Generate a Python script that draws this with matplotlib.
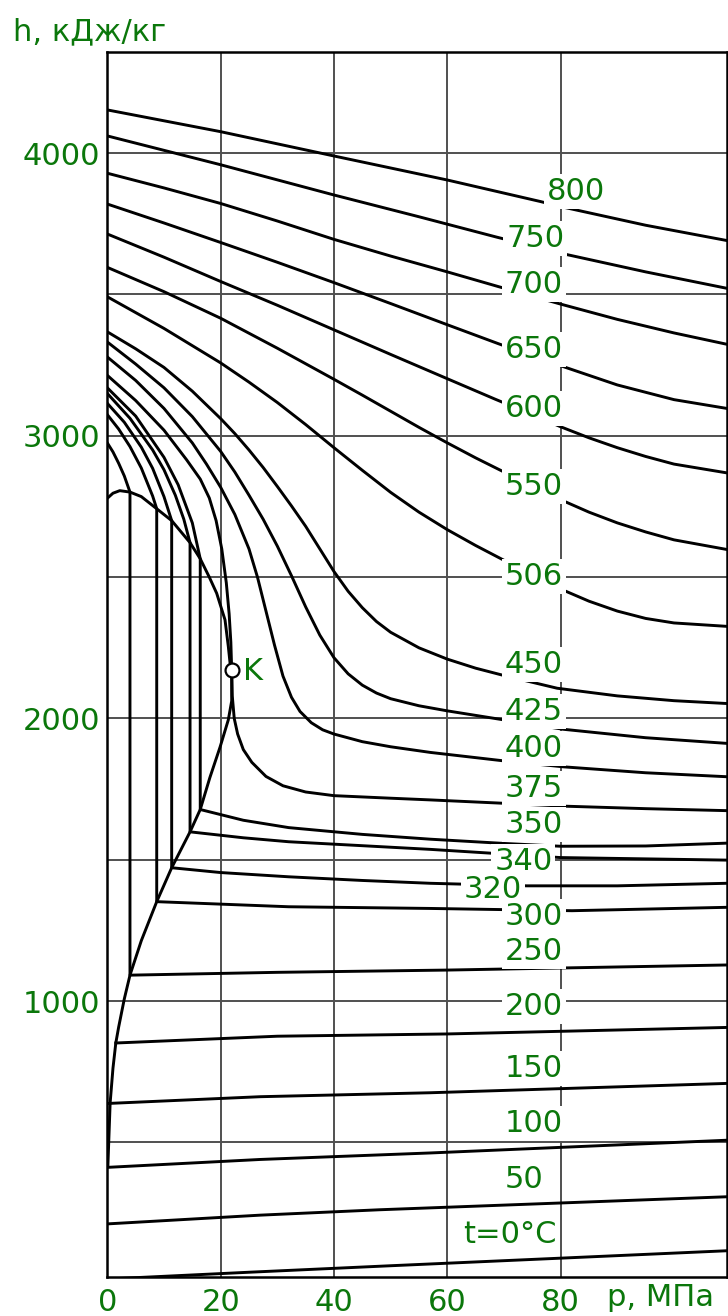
import matplotlib.pyplot as plt

# isotherms: pressure p (MPa), enthalpy h (kJ/kg)
p800 = [0, 20, 40, 60, 76.4, 80, 95, 109.3]
h800 = [4153, 4076, 3990, 3905, 3829, 3811, 3745, 3691]
p750 = [0, 20, 40, 55, 68.7, 80, 95, 109.3]
h750 = [4061, 3959, 3852, 3775, 3703, 3646, 3580, 3522]
p700 = [0, 10, 20, 30, 40, 50, 60, 69, 80, 90, 100, 109.3]
h700 = [3929, 3877, 3822, 3760, 3695, 3636, 3580, 3528, 3466, 3412, 3364, 3324]
p650 = [0, 10, 20, 30, 40, 50, 60, 69, 75, 80, 90, 100, 109.3]
h650 = [3820, 3753, 3684, 3614, 3542, 3468, 3393, 3326, 3283, 3248, 3180, 3128, 3097]
p600 = [0, 10, 20, 30, 40, 50, 60, 68.4, 75, 80, 85, 90, 95, 100, 109.3]
h600 = [3714, 3632, 3546, 3462, 3375, 3288, 3202, 3130, 3075, 3032, 2993, 2958, 2927, 2900, 2869]
p550 = [0, 10, 20, 30, 40, 45, 50, 55, 60, 65, 69.3, 75, 80, 85, 90, 95, 100, 109.3]
h550 = [3596, 3510, 3416, 3310, 3200, 3144, 3087, 3030, 2975, 2922, 2879, 2823, 2774, 2730,
        2692, 2660, 2632, 2598]
p506 = [0, 10, 20, 25, 30, 35, 40, 45, 50, 55, 60, 65, 69.3, 75, 80, 85, 90, 95, 100, 109.3]
h506 = [3492, 3380, 3258, 3190, 3118, 3040, 2958, 2878, 2800, 2730, 2668, 2612, 2567, 2508,
        2458, 2415, 2380, 2354, 2338, 2326]
p450 = [0, 5, 10, 15, 20, 22.5, 25, 27.5, 30, 32.5, 35, 37.5, 40, 42.5, 45, 47.5, 50, 55, 60,
        65, 70, 79.4, 90, 100, 109.3]
h450 = [3368, 3308, 3242, 3158, 3061, 3008, 2950, 2888, 2821, 2752, 2680, 2600, 2520, 2450,
        2392, 2343, 2305, 2250, 2210, 2178, 2152, 2107, 2080, 2063, 2053]
p425 = [0, 5, 10, 15, 20, 22.5, 25, 27.5, 30, 32.5, 35, 37.5, 40, 42.5, 45, 47.5, 50, 55, 60,
        70, 80.4, 95, 109.3]
h425 = [3332, 3254, 3170, 3068, 2945, 2872, 2790, 2705, 2610, 2505, 2395, 2295, 2215, 2158,
        2118, 2090, 2070, 2045, 2027, 1995, 1962, 1932, 1912]
p400 = [0, 5, 10, 15, 17.5, 20, 22.5, 25, 26.5, 28, 29.5, 31, 32.5, 34, 36, 38, 40, 45, 50,
        57, 70, 80.5, 95, 109.3]
h400 = [3279, 3196, 3097, 2975, 2900, 2818, 2722, 2600, 2500, 2380, 2260, 2150, 2075, 2025,
        1985, 1960, 1945, 1918, 1900, 1880, 1850, 1829, 1808, 1794]
p375 = [0, 5, 10, 14, 16.4, 18, 19.2, 20.2, 21, 21.5, 21.8, 21.95, 22.05, 22.4, 23, 24, 25.5,
        28, 31, 35, 40, 50, 57, 70, 80.4, 95, 109.3]
h375 = [3214, 3125, 3020, 2915, 2847, 2780, 2700, 2600, 2480, 2370, 2270, 2171, 2080, 2000,
        1945, 1890, 1845, 1795, 1762, 1740, 1727, 1718, 1712, 1700, 1690, 1681, 1674]
p350 = [0, 5, 10, 12.5, 15, 16.4, 16.4, 24, 32, 45, 57, 70, 80, 95, 109.3]
h350 = [3170, 3070, 2924, 2827, 2692, 2565, 1678, 1640, 1614, 1590, 1573, 1558, 1548, 1549, 1559]
p340 = [0, 4, 8, 10, 12, 13.5, 14.6, 14.6, 24, 32, 45, 57, 80, 109.3]
h340 = [3150, 3062, 2950, 2880, 2790, 2705, 2622, 1599, 1578, 1564, 1550, 1537, 1508, 1499]
p320 = [0, 3, 6, 8, 10, 11.36, 11.36, 20, 32, 45, 57, 74, 90, 109.3]
h320 = [3115, 3048, 2960, 2885, 2785, 2700, 1472, 1455, 1440, 1427, 1417, 1408, 1408, 1417]
p300 = [0, 2, 4, 6, 8, 8.72, 8.72, 32, 57, 82, 109.3]
h300 = [3075, 3024, 2962, 2886, 2787, 2742, 1352, 1334, 1328, 1320, 1332]
p250 = [0, 1, 2, 3, 4, 4, 30, 60, 109.3]
h250 = [2975, 2943, 2903, 2858, 2801, 1092, 1102, 1110, 1128]
p200 = [1.5, 30, 60, 109.3]
h200 = [852, 876, 884, 907]
p150 = [0, 27, 57, 109.3]
h150 = [638, 662, 676, 709]
p100 = [0, 27, 57, 109.3]
h100 = [412, 440, 463, 508]
p50 = [0, 27, 48, 109.3]
h50 = [212, 243, 262, 308]
p0 = [0, 25, 50, 109.3]
h0 = [17, 41, 64, 117]

# saturation lines and critical point
p_liq = [0.1, 0.5, 1.0, 1.5, 2, 3, 4, 6, 8.72, 11.36, 14.6, 16.4, 18.1, 19.9, 21.35, 21.95, 21.95]
h_liq = [417, 640, 763, 852, 908, 1008, 1092, 1214, 1352, 1472, 1599, 1678, 1791, 1899, 1995,
         2062, 2171]
p_vap = [0, 1, 2.2, 4, 6, 8.72, 11.36, 14.6, 16.4, 18, 19.3, 20.77, 21.36, 21.66, 21.95]
h_vap = [2779, 2797, 2806, 2801, 2785, 2742, 2700, 2622, 2565, 2500, 2443, 2349, 2254, 2196, 2171]
p_crit, h_crit = 21.95, 2171

curves = [(p800, h800), (p750, h750), (p700, h700), (p650, h650), (p600, h600),
          (p550, h550), (p506, h506), (p450, h450), (p425, h425), (p400, h400),
          (p375, h375), (p350, h350), (p340, h340), (p320, h320), (p300, h300),
          (p250, h250), (p200, h200), (p150, h150), (p100, h100), (p50, h50), (p0, h0)]

labels = ['800', '750', '700', '650', '600', '550', '506', '450', '425', '400', '375',
          '350', '340', '320', '300', '250', '200', '150', '100', '50', 't=0°C']
# label anchor (centre x, baseline y) in data units
label_pos = [(82.7, 3835), (75.5, 3668), (75.3, 3506), (75.3, 3276), (75.3, 3067),
             (75.3, 2791), (75.3, 2472), (75.3, 2161), (75.3, 1995), (75.3, 1864),
             (75.3, 1722), (75.3, 1595), (73.4, 1464), (68.1, 1365), (75.3, 1270),
             (75.3, 1146), (75.3, 951), (75.3, 732), (75.3, 536), (73.5, 338), (71.0, 144)]

green = '#0b770b'
fs = 22
fig = plt.figure(figsize=(7.28, 13.16), dpi=100)
ax = fig.add_axes([0.1474, 0.0296, 0.8508, 0.9307])

for v in [20, 40, 60, 80]:
    ax.axvline(v, color='#505050', lw=1.4, zorder=1)
for v in [500, 1000, 1500, 2000, 2500, 3000, 3500, 4000]:
    ax.axhline(v, color='#505050', lw=1.4, zorder=1)

for p, h in curves:
    ax.plot(p, h, color='black', lw=2.1, zorder=2, solid_joinstyle='round')
ax.plot(p_liq, h_liq, color='black', lw=2.1, zorder=2, solid_joinstyle='round')
ax.plot(p_vap, h_vap, color='black', lw=2.1, zorder=2, solid_joinstyle='round')

for txt, (x, y) in zip(labels, label_pos):
    ax.text(x, y, txt, color=green, fontsize=fs, ha='center', va='baseline', zorder=4,
            bbox=dict(boxstyle='square,pad=0.1', fc='white', ec='none'))

ax.plot([p_crit], [h_crit], 'o', ms=10, mfc='white', mec='black', mew=1.6, zorder=5)
ax.text(24.0, 2136, 'K', color=green, fontsize=fs, ha='left', va='baseline', zorder=5)

ax.set_xlim(0, 109.3)
ax.set_ylim(24, 4357)
ax.set_xticks([0, 20, 40, 60, 80])
ax.set_yticks([1000, 2000, 3000, 4000])
ax.tick_params(length=0, labelsize=fs, labelcolor=green, pad=5)
ax.tick_params(axis='x', pad=8)
for s in ax.spines.values():
    s.set_linewidth(1.8)
    s.set_zorder(6)

fig.text(13 / 728, 1 - 40 / 1316, 'h, кДж/кг', color=green, fontsize=fs, ha='left', va='baseline')
fig.text(607 / 728, 1 - 1306 / 1316, 'p, МПа', color=green, fontsize=fs, ha='left', va='baseline')

fig.savefig('out.png', dpi=100)
